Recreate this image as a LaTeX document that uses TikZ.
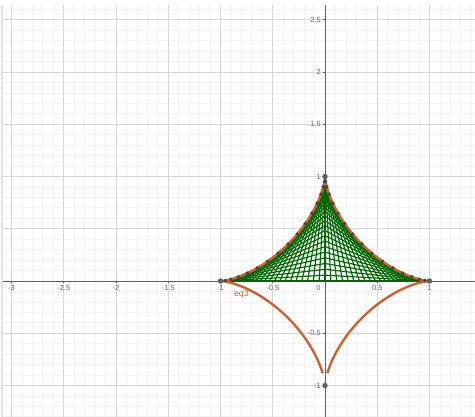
\documentclass[tikz,border=0pt]{standalone}
\usepackage{fontspec}
\setmainfont{Liberation Sans}
\definecolor{gmaj}{RGB}{214,214,214}
\definecolor{gmin}{RGB}{242,242,242}
\definecolor{strip}{RGB}{226,226,226}
\definecolor{axc}{RGB}{95,95,95}
\definecolor{labc}{RGB}{105,105,105}
\definecolor{curv}{RGB}{200,100,52}
\definecolor{meshc}{RGB}{0,102,0}
\definecolor{dotc}{RGB}{68,68,68}
\definecolor{ptc}{RGB}{95,95,95}
\begin{document}
\begin{tikzpicture}[x=104.5pt,y=104.5pt,
  minorline/.style={gmin,line width=0.8pt},
  majorline/.style={gmaj,line width=1pt},
  axisline/.style={axc,line width=1pt},
  ticklab/.style={font=\fontsize{7.5}{8}\selectfont,text=labc,inner sep=0pt},
  meshline/.style={meshc,line width=1.15pt},
  curveline/.style={curv,line width=2.4pt},
  smalldot/.style={dotc},
  bigdot/.style={ptc}]
\useasboundingbox (-3.110,-1.301) rectangle (1.435,2.689);
\fill[white] (-3.110,-1.301) rectangle (1.435,2.689);
% grid
\foreach \i in {-31,...,14} {\draw[minorline] (\i/10,-1.301) -- (\i/10,2.641);}
\foreach \i in {-13,...,26} {\draw[minorline] (-3.095,\i/10) -- (1.435,\i/10);}
\foreach \i in {-6,...,2} {\draw[majorline] (\i/2,-1.301) -- (\i/2,2.641);}
\foreach \i in {-2,...,5} {\draw[majorline] (-3.095,\i/2) -- (1.435,\i/2);}
\fill[strip] (-3.100,-1.301) rectangle (-3.080,2.641);
% axes
\coordinate (xl) at (-3.085,0);
\coordinate (xr) at (1.435,0);
\coordinate (yb) at (0,-1.301);
\coordinate (yt) at (0,2.641);
\draw[axisline] (xl) -- (xr);
\draw[axisline] (yb) -- (yt);
\foreach \v in {-6,...,2} {\draw[axc,line width=0.8pt] (\v/2,0) -- (\v/2,-0.022);}
\foreach \v in {-2,...,5} {\draw[axc,line width=0.8pt] (0,\v/2) -- (-0.022,\v/2);}
% tick labels
\node[ticklab,anchor=north] (lxm3) at (-3,-0.038) {-3};
\node[ticklab,anchor=north] (lxm25) at (-2.5,-0.038) {-2.5};
\node[ticklab,anchor=north] (lxm2) at (-2,-0.038) {-2};
\node[ticklab,anchor=north] (lxm15) at (-1.5,-0.038) {-1.5};
\node[ticklab,anchor=north] (lxm1) at (-1,-0.038) {-1};
\node[ticklab,anchor=north] (lxm05) at (-0.5,-0.038) {-0.5};
\node[ticklab,anchor=north east] (lx0) at (-0.041,-0.038) {0};
\node[ticklab,anchor=north] (lx05) at (0.5,-0.038) {0.5};
\node[ticklab,anchor=north] (lx1) at (1,-0.038) {1};
\node[ticklab,anchor=east] (ly25) at (-0.038,2.5) {2.5};
\node[ticklab,anchor=east] (ly2) at (-0.038,2) {2};
\node[ticklab,anchor=east] (ly15) at (-0.038,1.5) {1.5};
\node[ticklab,anchor=east] (ly1) at (-0.038,1) {1};
\node[ticklab,anchor=east] (ly05) at (-0.038,0.5) {0.5};
\node[ticklab,anchor=east] (lym05) at (-0.038,-0.5) {-0.5};
\node[ticklab,anchor=east] (lym1) at (-0.038,-1) {-1};
% string-art mesh (tangent segments of the astroid)
\foreach \k in {0,...,28} {
  \pgfmathsetmacro{\c}{cos(\k*90/28)}
  \pgfmathsetmacro{\s}{sin(\k*90/28)}
  \draw[meshline] (\c,0) -- (0,\s);
  \draw[meshline] (-\c,0) -- (0,\s);
}
% astroid eq3
\draw[curveline] plot[variable=\t,domain=-73.6:78,samples=160]
  ({cos(\t)*cos(\t)*cos(\t)},{sin(\t)*sin(\t)*sin(\t)});
\draw[curveline] plot[variable=\t,domain=102:253.6,samples=160]
  ({cos(\t)*cos(\t)*cos(\t)},{sin(\t)*sin(\t)*sin(\t)});
\node[font=\fontsize{8.6}{9}\selectfont,text=curv,inner sep=0pt,anchor=north west] (eqlab) at (-0.871,-0.086) {eq3};
% points on the astroid
\foreach \k in {1,...,17} {
  \pgfmathsetmacro{\c}{cos(\k*5)}
  \pgfmathsetmacro{\s}{sin(\k*5)}
  \fill[smalldot] ({\c*\c*\c},{\s*\s*\s}) circle (1.9pt);
  \fill[smalldot] ({-\c*\c*\c},{\s*\s*\s}) circle (1.9pt);
}
\fill[bigdot] (1,0) circle (2.7pt);
\fill[bigdot] (-1,0) circle (2.7pt);
\fill[bigdot] (0,1) circle (2.7pt);
\fill[bigdot] (0,-1) circle (2.7pt);
\end{tikzpicture}
\end{document}
